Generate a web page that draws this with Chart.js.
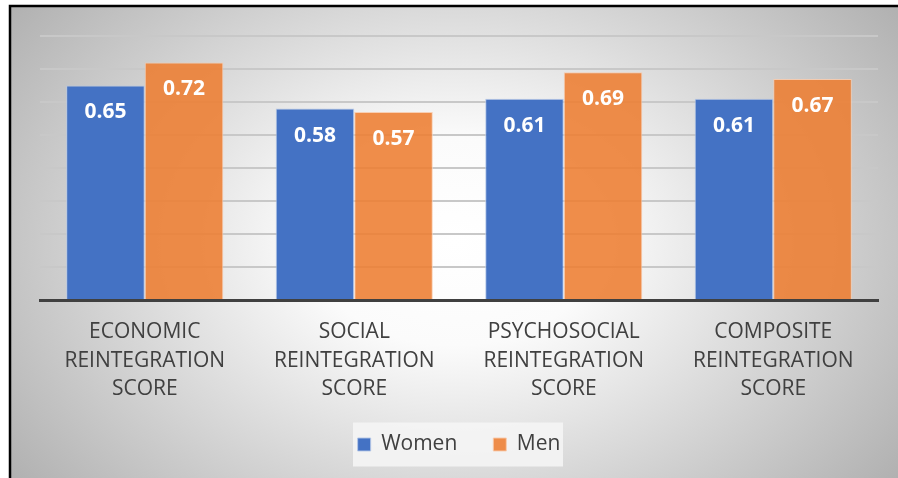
<!DOCTYPE html>
<html>
<head>
<meta charset="utf-8">
<script src="https://cdn.jsdelivr.net/npm/chart.js@4"></script>
<style>
  html, body { margin: 0; padding: 0; background: #fff; }
  #wrap { width: 898px; height: 478px; position: relative; }
</style>
</head>
<body>
<div id="wrap"><canvas id="chart"></canvas></div>
<script>
const categories = [
  ['ECONOMIC', 'REINTEGRATION', 'SCORE'],
  ['SOCIAL', 'REINTEGRATION', 'SCORE'],
  ['PSYCHOSOCIAL', 'REINTEGRATION', 'SCORE'],
  ['COMPOSITE', 'REINTEGRATION', 'SCORE']
];
const women = [0.65, 0.58, 0.61, 0.61];
const men = [0.72, 0.57, 0.69, 0.67];
const seriesNames = ['Women', 'Men'];

// gradient background + frame
const backdrop = {
  id: 'backdrop',
  beforeDraw(chart) {
    const ctx = chart.ctx;
    const w = chart.width, h = chart.height;
    ctx.save();
    ctx.fillStyle = '#ffffff';
    ctx.fillRect(0, 0, w, h);
    const x0 = 10, y0 = 6;
    const cx = (x0 + w) / 2, cy = (y0 + h) / 2;
    const rw = (w - x0) / 2 * 1.3, ratio = (h - y0) / (w - x0);
    ctx.beginPath();
    ctx.rect(x0, y0, w - x0, h - y0);
    ctx.clip();
    ctx.translate(cx, cy);
    ctx.scale(1, ratio * 1.35);
    const g = ctx.createRadialGradient(0, 0, 0, 0, 0, rw);
    g.addColorStop(0, '#ffffff');
    g.addColorStop(0.25, '#fbfbfb');
    g.addColorStop(1, '#acacac');
    ctx.fillStyle = g;
    ctx.fillRect(-w, -h * 2, w * 2, h * 4);
    ctx.restore();

    ctx.save();
    ctx.strokeStyle = '#000000';
    ctx.lineWidth = 2.5;
    ctx.beginPath();
    ctx.moveTo(x0, h);
    ctx.lineTo(x0, y0);
    ctx.lineTo(w, y0);
    ctx.stroke();

    // legend panel
    const lg = chart.legend;
    if (lg) {
      const pad = lg.options.labels.padding;
      const mid = lg.top + pad + 10.5;
      const lc = (lg.left + lg.right) / 2;
      ctx.fillStyle = 'rgba(246,246,246,0.85)';
      ctx.fillRect(lc - 106, mid - 22, 210, 44);
    }
    ctx.restore();
  }
};

// value labels inside top of bars
const valueLabels = {
  id: 'valueLabels',
  afterDatasetsDraw(chart) {
    const ctx = chart.ctx;
    ctx.save();
    ctx.fillStyle = '#ffffff';
    ctx.font = 'bold 21px "Open Sans"';
    ctx.textAlign = 'center';
    ctx.textBaseline = 'middle';
    chart.data.datasets.forEach((ds, i) => {
      chart.getDatasetMeta(i).data.forEach((bar, j) => {
        ctx.fillText(ds.data[j].toFixed(2), bar.x, bar.y + 27);
      });
    });
    ctx.restore();
  }
};

new Chart(document.getElementById('chart'), {
  type: 'bar',
  data: {
    labels: categories,
    datasets: [
      {
        label: seriesNames[0],
        data: women,
        backgroundColor: '#4472C4',
        borderColor: 'rgba(180,199,231,0.9)',
        borderWidth: 1
      },
      {
        label: seriesNames[1],
        data: men,
        backgroundColor: 'rgba(237,125,49,0.88)',
        borderColor: 'rgba(248,203,173,0.9)',
        borderWidth: 1
      }
    ]
  },
  options: {
    responsive: true,
    maintainAspectRatio: false,
    animation: false,
    layout: { padding: { left: 40, right: 20, top: 36, bottom: 13 } },
    datasets: { bar: { categoryPercentage: 0.75, barPercentage: 1.0 } },
    scales: {
      x: {
        grid: { display: false },
        border: { display: true, color: '#404040', width: 3 },
        ticks: {
          color: '#404040',
          font: { family: '"Open Sans"', size: 21, lineHeight: 1.36 },
          padding: 10,
          maxRotation: 0,
          autoSkip: false
        },
        afterFit(scale) { scale.height = 98; }
      },
      y: {
        min: 0,
        max: 0.8,
        ticks: { display: false, stepSize: 0.1 },
        grid: { color: '#c8c8c8', lineWidth: 2, drawTicks: false },
        border: { display: false },
        afterFit(scale) { scale.width = 0; }
      }
    },
    plugins: {
      legend: {
        position: 'bottom',
        labels: {
          boxWidth: 13,
          boxHeight: 13,
          padding: 36,
          color: '#404040',
          font: { family: '"Open Sans"', size: 21 }
        }
      },
      tooltip: { enabled: false }
    }
  },
  plugins: [backdrop, valueLabels]
});
</script>
</body>
</html>
